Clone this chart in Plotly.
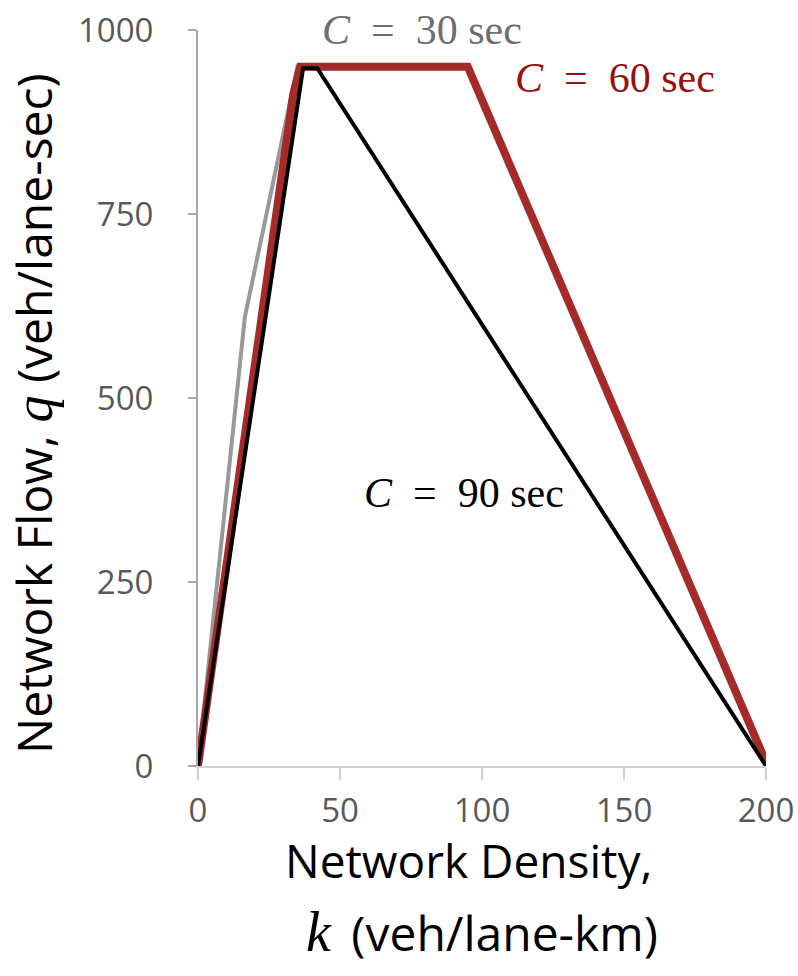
import plotly.graph_objects as go

# Network macroscopic fundamental diagrams for three signal cycle lengths
density_c30 = [0, 16.5, 35, 95, 200]
flow_c30 = [0, 610, 950, 950, 0]

density_c60 = [0, 33.5, 36, 95, 200]
flow_c60 = [0, 912, 950, 950, 5]

density_c90 = [0, 37, 42, 200]
flow_c90 = [0, 948, 948, 0]

x_ticks = [0, 50, 100, 150, 200]
y_ticks = [0, 250, 500, 750, 1000]

GRAY = "#999999"
RED = "#a52a2a"
BLACK = "#000000"

fig = go.Figure()
fig.add_trace(go.Scatter(x=density_c30, y=flow_c30, mode="lines",
                         line=dict(color=GRAY, width=4), name="C = 30 sec"))
fig.add_trace(go.Scatter(x=density_c60, y=flow_c60, mode="lines",
                         line=dict(color=RED, width=8), name="C = 60 sec"))
fig.add_trace(go.Scatter(x=density_c90, y=flow_c90, mode="lines",
                         line=dict(color=BLACK, width=4), name="C = 90 sec"))

serif = "Liberation Serif"
sans = "Open Sans"
sp = "\u2002"
labels = [
    (79, 1000, f"<i>C</i>{sp}={sp}30 sec", "#6e6e6e"),
    (147, 935, f"<i>C</i>{sp}={sp}60 sec", "#990f0f"),
    (93.5, 371, f"<i>C</i>{sp}={sp}90 sec", BLACK),
]
for x, y, t, c in labels:
    fig.add_annotation(x=x, y=y, text=t, showarrow=False,
                       font=dict(family=serif, size=42, color=c),
                       xanchor="center", yanchor="middle")

# Axis titles, placed as annotations for precise line spacing
q_sym = '<span style="font-family:Liberation Serif;font-size:54px"><i>q</i></span>'
k_sym = '<span style="font-family:Liberation Serif;font-size:56px"><i>k</i></span>'
fig.add_annotation(xref="paper", yref="paper", x=0, y=0.5, xshift=-165, yshift=-16,
                   text=f"Network Flow, {q_sym} (veh/lane-sec)", textangle=-90,
                   showarrow=False, xanchor="center", yanchor="middle",
                   font=dict(family=sans, size=48, color="black"))
fig.add_annotation(xref="paper", yref="paper", x=0.5, y=0, yshift=-94, xshift=-14,
                   text="Network Density,", showarrow=False,
                   xanchor="center", yanchor="middle",
                   font=dict(family=sans, size=46, color="black"))
fig.add_annotation(xref="paper", yref="paper", x=0.5, y=0, yshift=-166, xshift=0,
                   text=f"{k_sym}\u2009 (veh/lane-km)", showarrow=False,
                   xanchor="center", yanchor="middle",
                   font=dict(family=sans, size=48, color="black"))

fig.update_layout(
    width=798, height=976,
    margin=dict(l=198, r=32, t=30, b=210),
    plot_bgcolor="white", paper_bgcolor="white",
    showlegend=False,
    font=dict(family=sans),
)
fig.update_xaxes(
    range=[0, 200], tickvals=x_ticks, ticks="outside", ticklen=12,
    tickcolor="#d0d0d0", tickwidth=2,
    showline=True, linecolor="#d0d0d0", linewidth=2,
    showgrid=False, zeroline=False, automargin=False,
    ticklabelstandoff=2,
    tickfont=dict(family=sans, size=33, color="#595959"),
)
fig.update_yaxes(
    range=[0, 1000], tickvals=y_ticks, ticks="outside", ticklen=8,
    tickcolor="#a6a6a6", tickwidth=2,
    showline=True, linecolor="#a6a6a6", linewidth=2,
    showgrid=False, zeroline=False, automargin=False,
    ticklabelstandoff=28,
    tickfont=dict(family=sans, size=33, color="#595959"),
)

fig.write_html("out.html")
